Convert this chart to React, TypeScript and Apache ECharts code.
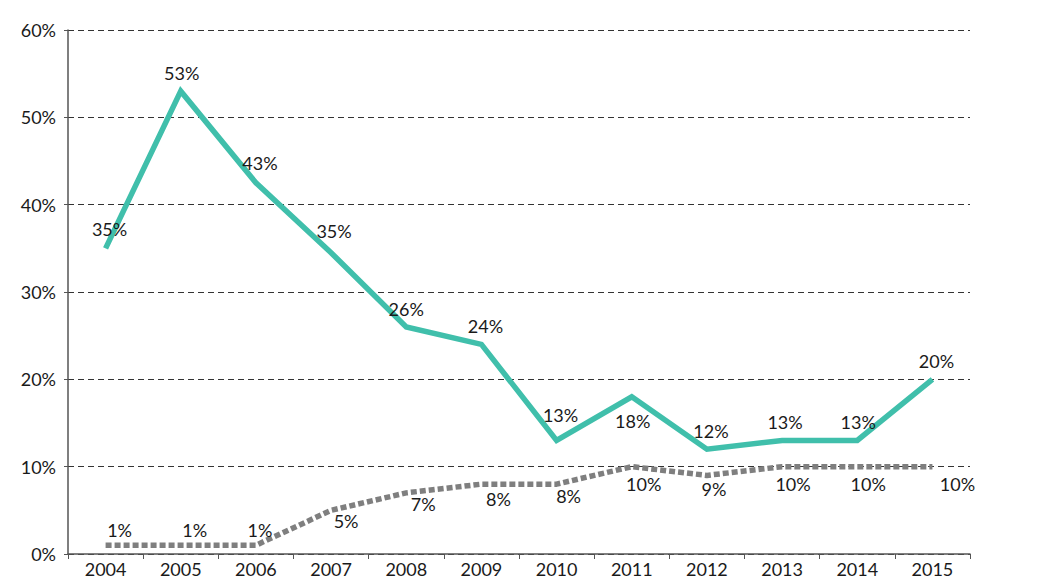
import React, { useEffect, useRef } from "react";
import * as echarts from "echarts";

const years = ["2004", "2005", "2006", "2007", "2008", "2009", "2010", "2011", "2012", "2013", "2014", "2015"];
const greenValues = [35, 53, 42.5, 34.5, 26, 24, 13, 18, 12, 13, 13, 20];
const grayValues = [1, 1, 1, 5, 7, 8, 8, 10, 9, 10, 10, 10];
const yTicks = { min: 0, max: 60, interval: 10 };

const FONT = "Lato";

export default function App() {
  const ref = useRef<HTMLDivElement>(null);
  useEffect(() => {
    if (!ref.current) return;
    const chart = echarts.init(ref.current, undefined, { renderer: "svg" });
    const greenLabelPos: [string, number[]][] = [
      ["top", [4, -5]], ["top", [1, -4]], ["top", [4, -6]], ["top", [3, -8]],
      ["top", [0, -4]], ["top", [4, -4]], ["top", [4, -11]], ["bottom", [1, 10]],
      ["top", [4, -4]], ["top", [3, -4]], ["top", [1, -4]], ["top", [4, -4]],
    ];
    const grayLabelPos: [string, number[]][] = [
      ["top", [14, -1]], ["top", [14, -1]], ["top", [4, -1]], ["bottom", [15, -3]],
      ["bottom", [17, -3]], ["bottom", [17, 1]], ["bottom", [12, -2]], ["bottom", [12, 3]],
      ["bottom", [7, 0]], ["bottom", [11, 3]], ["bottom", [11, 3]], ["bottom", [25, 3]],
    ];
    const labelStyle = { fontFamily: FONT, fontSize: 18, color: "#1a1a1a", distance: 5 };
    chart.setOption({
      animation: false,
      backgroundColor: "#ffffff",
      grid: { left: 68, right: 74, top: 30, bottom: 27, containLabel: false },
      xAxis: {
        type: "category",
        data: years,
        boundaryGap: true,
        axisLine: { show: true, lineStyle: { color: "#555", width: 1.5 } },
        axisTick: { show: true, alignWithLabel: false, length: 5, lineStyle: { color: "#555" } },
        axisLabel: { fontFamily: FONT, fontSize: 18, color: "#1a1a1a", margin: 6 },
        splitLine: { show: false },
      },
      yAxis: {
        type: "value",
        min: yTicks.min,
        max: yTicks.max,
        interval: yTicks.interval,
        axisLine: { show: true, lineStyle: { color: "#555", width: 1.5 } },
        axisTick: { show: true, length: 4, lineStyle: { color: "#555" } },
        axisLabel: { fontFamily: FONT, fontSize: 18, color: "#1a1a1a", margin: 12, formatter: (v: number) => v + "%" },
        splitLine: { show: true, lineStyle: { color: "#333", type: [6, 4], width: 1 } },
      },
      series: [
        {
          type: "line",
          data: greenValues.map((v, i) => ({
            value: v,
            label: { position: greenLabelPos[i][0], offset: greenLabelPos[i][1] },
          })),
          showSymbol: true,
          symbol: "circle",
          symbolSize: 0.1,
          lineStyle: { color: "#40BFAB", width: 5.5, join: "miter" },
          itemStyle: { color: "#40BFAB" },
          label: { show: true, ...labelStyle, formatter: (p: any) => Math.round(p.value) + "%" },
          z: 3,
        },
        {
          type: "line",
          data: grayValues.map((v, i) => ({
            value: v,
            label: { position: grayLabelPos[i][0], offset: grayLabelPos[i][1] },
          })),
          showSymbol: true,
          symbol: "circle",
          symbolSize: 0.1,
          lineStyle: { color: "#7f7f7f", width: 5.5, type: [6, 3], cap: "butt" },
          itemStyle: { color: "#7f7f7f" },
          label: { show: true, ...labelStyle, formatter: (p: any) => Math.round(p.value) + "%" },
          z: 2,
        },
      ],
    });
    return () => chart.dispose();
  }, []);
  return <div ref={ref} style={{ position: "absolute", left: 0, top: 0, width: 1044, height: 581 }} />;
}
